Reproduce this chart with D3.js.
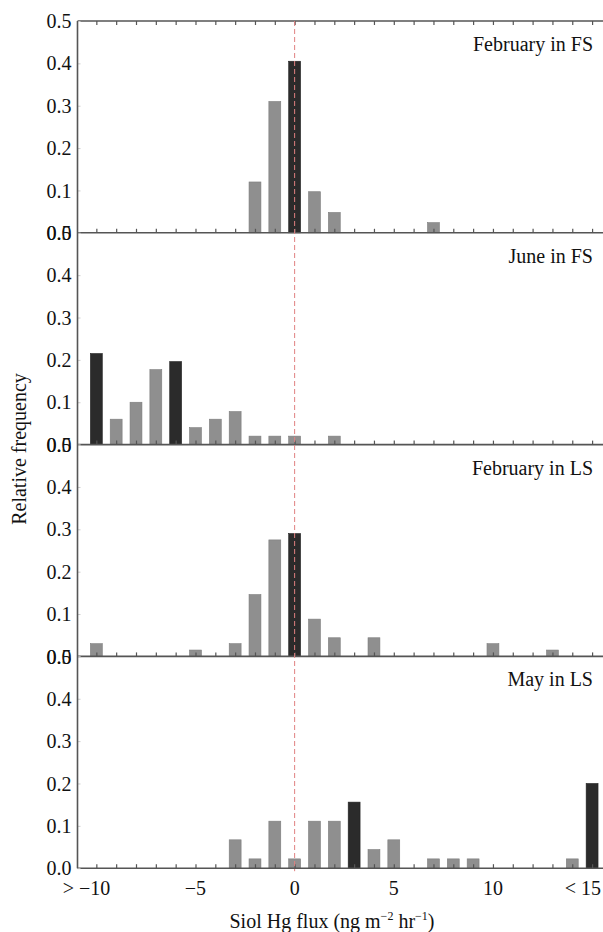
<!DOCTYPE html>
<html>
<head>
<meta charset="utf-8">
<script src="https://cdn.jsdelivr.net/npm/d3@7"></script>
<style>
  body { margin: 0; background: #fff; }
  svg { display: block; }
  svg text { font-family: "Liberation Serif", "DejaVu Serif", "Times New Roman", Times, serif !important; }
</style>
</head>
<body>
<svg></svg>
<script>
// flux bins (ng m-2 hr-1), first = ">-10", last = "<15"
const bins = [-10, -9, -8, -7, -6, -5, -4, -3, -2, -1, 0, 1, 2, 3, 4, 5, 6, 7, 8, 9, 10, 11, 12, 13, 14, 15];

const febFS = [0, 0, 0, 0, 0, 0, 0, 0, 0.12, 0.31, 0.405, 0.097, 0.048, 0, 0, 0, 0, 0.024, 0, 0, 0, 0, 0, 0, 0, 0];
const junFS = [0.215, 0.06, 0.1, 0.177, 0.196, 0.04, 0.06, 0.078, 0.02, 0.02, 0.02, 0, 0.02, 0, 0, 0, 0, 0, 0, 0, 0, 0, 0, 0, 0, 0];
const febLS = [0.03, 0, 0, 0, 0, 0.015, 0, 0.03, 0.146, 0.275, 0.29, 0.088, 0.044, 0, 0.044, 0, 0, 0, 0, 0, 0.03, 0, 0, 0.015, 0, 0];
const mayLS = [0, 0, 0, 0, 0, 0, 0, 0.067, 0.022, 0.111, 0.022, 0.111, 0.111, 0.156, 0.044, 0.067, 0, 0.022, 0.022, 0.022, 0, 0, 0, 0, 0.022, 0.2];

const panelNames = ['February in FS', 'June in FS', 'February in LS', 'May in LS'];
const panelValues = [febFS, junFS, febLS, mayLS];
// bins drawn dark in each panel
const darkBins = [[0], [-10, -6], [0], [3, 15]];

const xTicks = [-10, -5, 0, 5, 10, 15];
const xTickLabels = ['> \u221210', '\u22125', '0', '5', '10', '< 15'];
const yTicks = [0, 0.1, 0.2, 0.3, 0.4, 0.5];

const W = 603, H = 932;
const plotLeft = 77.5, plotRight = 603, plotTop = 21, panelH = 211.8;
const axisColor = '#555';

const svg = d3.select('svg').attr('width', W).attr('height', H);

const x = d3.scaleLinear().domain([-10.95, 15.55]).range([plotLeft, plotRight]);
const barW = (x(1) - x(0)) * 0.6;

panelValues.forEach((vals, p) => {
    const y0 = plotTop + p * panelH;
    const y = d3.scaleLinear().domain([0, 0.5]).range([y0 + panelH, y0]);
    const g = svg.append('g');

    const rows = bins.map((b, i) => ({ bin: b, v: vals[i] })).filter(d => d.v > 0);

    g.selectAll('.bar')
        .data(rows)
        .enter().append('rect')
        .attr('class', 'bar')
        .attr('x', d => x(d.bin) - barW / 2)
        .attr('y', d => y(d.v))
        .attr('width', barW)
        .attr('height', d => y(0) - y(d.v))
        .attr('fill', d => darkBins[p].includes(d.bin) ? '#2b2b2b' : '#8f8f8f')
        .attr('stroke', d => darkBins[p].includes(d.bin) ? '#222' : '#7d7d7d')
        .attr('stroke-width', 0.6);

    // bottom axis with small inward ticks at each bin
    const xb = g.append('g')
        .attr('transform', `translate(0, ${y(0)})`)
        .call(d3.axisTop(x).tickValues(bins).tickSize(4).tickFormat(''));
    xb.select('.domain').remove();
    xb.selectAll('line').attr('stroke', axisColor).attr('stroke-width', 1.2);
    g.append('line')
        .attr('x1', plotLeft).attr('x2', plotRight)
        .attr('y1', y(0)).attr('y2', y(0))
        .attr('stroke', axisColor).attr('stroke-width', 1.6);

    if (p === 0) {
        const xt = g.append('g')
            .attr('transform', `translate(0, ${y(0.5)})`)
            .call(d3.axisBottom(x).tickValues(bins).tickSize(4).tickFormat(''));
        xt.select('.domain').remove();
        xt.selectAll('line').attr('stroke', axisColor).attr('stroke-width', 1.2);
        g.append('line')
            .attr('x1', plotLeft).attr('x2', plotRight)
            .attr('y1', y(0.5)).attr('y2', y(0.5))
            .attr('stroke', axisColor).attr('stroke-width', 1.6);
    }

    // y axis labels (0.0 and 0.5 overlap at the joins, as in the figure)
    const ya = g.append('g')
        .attr('transform', `translate(${plotLeft}, 0)`)
        .call(d3.axisRight(y).tickValues(yTicks).tickSize(3).tickFormat(d3.format('.1f')));
    ya.select('.domain').remove();
    ya.selectAll('line').attr('stroke', '#ccc');
    ya.selectAll('text')
        .attr('x', -6)
        .attr('text-anchor', 'end')
        .attr('dy', '0.33em')
        .attr('font-size', 20)
        .attr('fill', '#111');

    g.append('text')
        .attr('x', 593)
        .attr('y', y0 + 30)
        .attr('text-anchor', 'end')
        .attr('font-size', 20)
        .attr('fill', '#111')
        .text(panelNames[p]);
});

// left axis line across all panels
svg.append('line')
    .attr('x1', plotLeft).attr('x2', plotLeft)
    .attr('y1', plotTop).attr('y2', plotTop + 4 * panelH)
    .attr('stroke', axisColor).attr('stroke-width', 1.6);

// dashed zero line
svg.append('line')
    .attr('x1', x(0)).attr('x2', x(0))
    .attr('y1', plotTop).attr('y2', plotTop + 4 * panelH + 3)
    .attr('stroke', '#e08080').attr('stroke-width', 1)
    .attr('stroke-dasharray', '5,3');

// x tick labels under the last panel
const bottomY = plotTop + 4 * panelH;
const nLab = xTicks.length;
svg.selectAll('.xlab')
    .data(xTicks)
    .enter().append('text')
    .attr('class', 'xlab')
    .attr('x', (d, i) => x(d) + (i === 0 ? 14 : i === nLab - 1 ? 9 : 0))
    .attr('y', bottomY + 27)
    .attr('text-anchor', (d, i) => (i === 0 || i === nLab - 1) ? 'end' : 'middle')
    .attr('font-size', 20)
    .attr('fill', '#111')
    .text((d, i) => xTickLabels[i]);

const xl = svg.append('text')
    .attr('x', 332)
    .attr('y', bottomY + 60)
    .attr('text-anchor', 'middle')
    .attr('font-size', 20)
    .attr('fill', '#111');
xl.append('tspan').text('Siol Hg flux (ng m');
xl.append('tspan').attr('dy', -8).attr('font-size', 12).text('\u22122');
xl.append('tspan').attr('dy', 8).text(' hr');
xl.append('tspan').attr('dy', -8).attr('font-size', 12).text('\u22121');
xl.append('tspan').attr('dy', 8).text(')');

svg.append('text')
    .attr('transform', `translate(26, 449) rotate(-90)`)
    .attr('text-anchor', 'middle')
    .attr('font-size', 20)
    .attr('fill', '#111')
    .text('Relative frequency');
</script>
</body>
</html>
